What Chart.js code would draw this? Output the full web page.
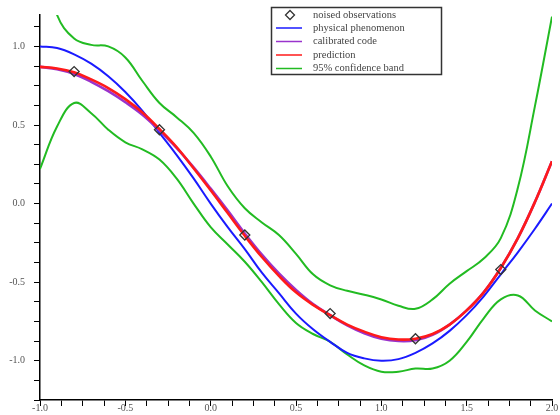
<!DOCTYPE html>
<html>
<head>
<meta charset="utf-8">
<script src="https://cdn.jsdelivr.net/npm/chart.js@4.4.1/dist/chart.umd.min.js"></script>
<style>
  body { margin: 0; background: #fff; }
  #wrap { width: 560px; height: 415px; }
</style>
</head>
<body>
<div id="wrap"><canvas id="chart" width="560" height="415"></canvas></div>
<script>
var xs = [-1.0, -0.9, -0.8, -0.7, -0.6, -0.5, -0.4, -0.3, -0.2, -0.1,
          0.0, 0.1, 0.2, 0.3, 0.4, 0.5, 0.6, 0.7, 0.8, 0.9,
          1.0, 1.1, 1.2, 1.3, 1.4, 1.5, 1.6, 1.7, 1.8, 1.9, 2.0];

var physical = [1.0, 0.99, 0.95, 0.89, 0.81, 0.71, 0.59, 0.45, 0.31, 0.16,
                0.0, -0.15, -0.29, -0.44, -0.57, -0.70, -0.80, -0.88, -0.95, -0.985,
                -1.0, -0.99, -0.95, -0.89, -0.81, -0.71, -0.59, -0.45, -0.31, -0.16, 0.0];

var calibrated = [0.87, 0.855, 0.825, 0.775, 0.715, 0.645, 0.565, 0.465, 0.355, 0.23,
                  0.095, -0.045, -0.19, -0.325, -0.445, -0.55, -0.64, -0.71, -0.775, -0.825,
                  -0.86, -0.875, -0.87, -0.835, -0.77, -0.68, -0.565, -0.41, -0.22, 0.01, 0.27];

var prediction = [0.87, 0.86, 0.835, 0.79, 0.735, 0.665, 0.58, 0.475, 0.36, 0.225,
                  0.085, -0.06, -0.205, -0.34, -0.46, -0.565, -0.645, -0.71, -0.77, -0.815,
                  -0.85, -0.865, -0.86, -0.83, -0.77, -0.68, -0.565, -0.41, -0.22, 0.01, 0.27];

var bandUpper = [1.6, 1.2, 1.05, 1.01, 1.0, 0.93, 0.78, 0.64, 0.55, 0.45,
                 0.30, 0.11, -0.03, -0.12, -0.2, -0.32, -0.45, -0.52, -0.555, -0.58,
                 -0.61, -0.65, -0.67, -0.61, -0.51, -0.43, -0.35, -0.22, 0.1, 0.62, 1.19];

var bandLower = [0.22, 0.49, 0.64, 0.575, 0.47, 0.39, 0.345, 0.28, 0.16, 0.0,
                 -0.15, -0.26, -0.37, -0.50, -0.64, -0.76, -0.83, -0.88, -0.96, -1.03,
                 -1.07, -1.07, -1.05, -1.05, -1.0, -0.88, -0.73, -0.61, -0.585, -0.68, -0.75];

var obsX = [-0.8, -0.3, 0.2, 0.7, 1.2, 1.7];
var obsY = [0.84, 0.47, -0.2, -0.7, -0.86, -0.42];

var labels = ['noised observations', 'physical phenomenon', 'calibrated code', 'prediction', '95% confidence band'];
var colors = ['#333333', '#1a1aff', '#9933cc', '#ff1a1a', '#22bb22'];

function toPoints(ys) {
    return xs.map(function (x, i) { return { x: x, y: ys[i] }; });
}

function curve(label, ys, color, width) {
    return {
        label: label,
        data: toPoints(ys),
        borderColor: color,
        borderWidth: width,
        pointRadius: 0,
        fill: false,
        tension: 0.4
    };
}

// boxed legend drawn inside the plot, like the original
var legendBox = {
    id: 'legendBox',
    afterDraw: function (chart) {
        var ctx = chart.ctx;
        var left = 271, top = 7, w = 170, h = 67;
        var rows = [15, 28, 41.5, 55, 68.5];
        ctx.save();
        ctx.fillStyle = '#fff';
        ctx.fillRect(left, top, w, h);
        ctx.strokeStyle = '#333';
        ctx.lineWidth = 1.5;
        ctx.strokeRect(left + 0.5, top + 0.5, w, h);
        ctx.font = '10.5px "Liberation Serif"';
        ctx.textBaseline = 'middle';
        for (var i = 0; i < labels.length; i++) {
            var y = rows[i];
            if (i === 0) {
                ctx.strokeStyle = colors[0];
                ctx.lineWidth = 1.3;
                ctx.beginPath();
                ctx.moveTo(290, y - 4.5);
                ctx.lineTo(294.5, y);
                ctx.lineTo(290, y + 4.5);
                ctx.lineTo(285.5, y);
                ctx.closePath();
                ctx.stroke();
            } else {
                ctx.strokeStyle = colors[i];
                ctx.lineWidth = 1.5;
                ctx.beginPath();
                ctx.moveTo(276, y);
                ctx.lineTo(302, y);
                ctx.stroke();
            }
            ctx.fillStyle = '#444';
            ctx.fillText(labels[i], 313, y);
        }
        ctx.restore();
    }
};

function halfLabel(value) {
    var v = value * 2;
    if (Math.abs(v - Math.round(v)) < 1e-9) return value.toFixed(1);
    return '';
}

var tickFont = { family: 'Liberation Serif', size: 10 };

new Chart(document.getElementById('chart'), {
    type: 'line',
    data: {
        datasets: [
            {
                label: labels[0],
                data: obsX.map(function (x, i) { return { x: x, y: obsY[i] }; }),
                showLine: false,
                pointStyle: 'rectRot',
                pointRadius: 5,
                pointBorderWidth: 1.3,
                pointBorderColor: colors[0],
                pointBackgroundColor: 'rgba(0,0,0,0)',
                borderColor: colors[0]
            },
            curve(labels[3], prediction, colors[3], 2.6),
            curve(labels[2], calibrated, colors[2], 2.6),
            curve(labels[1], physical, colors[1], 2),
            curve(labels[4], bandUpper, colors[4], 2),
            curve(labels[4], bandLower, colors[4], 2)
        ]
    },
    options: {
        responsive: false,
        animation: false,
        layout: { padding: { top: 10, right: 8, left: 0, bottom: 0 } },
        plugins: {
            legend: { display: false },
            tooltip: { enabled: false }
        },
        scales: {
            x: {
                type: 'linear',
                min: -1,
                max: 2,
                afterFit: function (scale) { scale.height = 13; },
                border: { display: true, color: '#000', width: 1.5 },
                grid: { drawOnChartArea: false, drawTicks: true, tickLength: 6, color: '#000' },
                ticks: {
                    stepSize: 0.125,
                    maxTicksLimit: 100,
                    autoSkip: false,
                    maxRotation: 0,
                    includeBounds: false,
                    padding: -4,
                    color: '#555',
                    font: tickFont,
                    callback: halfLabel
                }
            },
            y: {
                min: -1.25,
                max: 1.2,
                afterFit: function (scale) { scale.width = 40; },
                border: { display: true, color: '#000', width: 1.5 },
                grid: { drawOnChartArea: false, drawTicks: true, tickLength: 6, color: '#000' },
                ticks: {
                    stepSize: 0.125,
                    maxTicksLimit: 100,
                    autoSkip: false,
                    includeBounds: false,
                    padding: 9,
                    color: '#555',
                    font: tickFont,
                    callback: halfLabel
                }
            }
        }
    },
    plugins: [legendBox]
});
</script>
</body>
</html>
